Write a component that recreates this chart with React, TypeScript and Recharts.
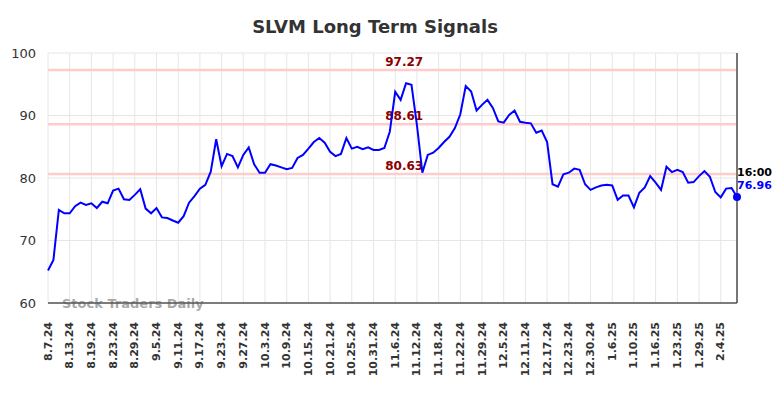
import { CartesianGrid, Line, LineChart, ReferenceLine, XAxis, YAxis } from "recharts";

const dates = [
  "8.7.24", "8.8.24", "8.9.24", "8.12.24", "8.13.24", "8.14.24", "8.15.24", "8.16.24", "8.19.24", "8.20.24",
  "8.21.24", "8.22.24", "8.23.24", "8.26.24", "8.27.24", "8.28.24", "8.29.24", "8.30.24",
  "9.3.24", "9.4.24", "9.5.24", "9.6.24", "9.9.24", "9.10.24", "9.11.24", "9.12.24", "9.13.24", "9.16.24",
  "9.17.24", "9.18.24", "9.19.24", "9.20.24", "9.23.24", "9.24.24", "9.25.24", "9.26.24", "9.27.24", "9.30.24",
  "10.1.24", "10.2.24", "10.3.24", "10.4.24", "10.7.24", "10.8.24", "10.9.24", "10.10.24", "10.11.24", "10.14.24",
  "10.15.24", "10.16.24", "10.17.24", "10.18.24", "10.21.24", "10.22.24", "10.23.24", "10.24.24", "10.25.24",
  "10.28.24", "10.29.24", "10.30.24", "10.31.24",
  "11.1.24", "11.4.24", "11.5.24", "11.6.24", "11.7.24", "11.8.24", "11.11.24", "11.12.24", "11.13.24", "11.14.24",
  "11.15.24", "11.18.24", "11.19.24", "11.20.24", "11.21.24", "11.22.24", "11.25.24", "11.26.24", "11.27.24", "11.29.24",
  "12.2.24", "12.3.24", "12.4.24", "12.5.24", "12.6.24", "12.9.24", "12.10.24", "12.11.24", "12.12.24", "12.13.24",
  "12.16.24", "12.17.24", "12.18.24", "12.19.24", "12.20.24", "12.23.24", "12.24.24", "12.26.24", "12.27.24",
  "12.30.24", "12.31.24",
  "1.2.25", "1.3.25", "1.6.25", "1.7.25", "1.8.25", "1.9.25", "1.10.25", "1.13.25", "1.14.25", "1.15.25",
  "1.16.25", "1.17.25", "1.21.25", "1.22.25", "1.23.25", "1.24.25", "1.27.25", "1.28.25", "1.29.25", "1.30.25",
  "1.31.25",
  "2.3.25", "2.4.25", "2.5.25", "2.6.25", "2.7.25",
];

const prices = [
  65.2, 66.9, 74.9, 74.35, 74.35, 75.5, 76.05, 75.7, 75.95, 75.2,
  76.2, 75.95, 78.0, 78.3, 76.6, 76.5, 77.3, 78.2, 75.1, 74.35,
  75.2, 73.7, 73.6, 73.2, 72.85, 73.9, 76.05, 77.1, 78.3, 78.9,
  81.0, 86.2, 81.9, 83.85, 83.5, 81.7, 83.7, 84.9, 82.2, 80.85,
  80.85, 82.2, 82.0, 81.7, 81.4, 81.6, 83.2, 83.7, 84.7, 85.75,
  86.4, 85.65, 84.2, 83.5, 83.85, 86.4, 84.7, 85.0, 84.6, 84.9,
  84.5, 84.5, 84.8, 87.4, 93.8, 92.5, 95.15, 94.9, 88.5, 80.85,
  83.7, 84.05, 84.8, 85.75, 86.6, 88.0, 90.2, 94.7, 93.85, 90.8,
  91.7, 92.5, 91.2, 89.05, 88.85, 90.1, 90.8, 89.0, 88.85, 88.75,
  87.25, 87.6, 85.75, 79.0, 78.6, 80.6, 80.85, 81.5, 81.3, 79.0,
  78.1, 78.5, 78.8, 78.9, 78.8, 76.5, 77.2, 77.2, 75.3, 77.65,
  78.5, 80.3, 79.25, 78.1, 81.8, 80.95, 81.3, 80.95, 79.25, 79.35,
  80.3, 81.1, 80.2, 77.75, 76.9, 78.3, 78.4, 76.96,
];

const tickDates = dates.filter((_, i) => i % 4 === 0);
const yTicks = [60, 70, 80, 90, 100];
const signals = [97.27, 88.61, 80.63];
const lastTime = "16:00";

const data = dates.map((d, i) => ({ date: d, price: prices[i] }));

const FONT = "DejaVu Sans, sans-serif";

function XTick({ x, y, payload }: any) {
  const ty = y + 11;
  return (
    <text
      x={x}
      y={ty}
      transform={`rotate(-90, ${x}, ${ty})`}
      textAnchor="end"
      dominantBaseline="central"
      fontFamily={FONT}
      fontSize={11}
      fontWeight="bold"
      fill="#333"
    >
      {payload.value}
    </text>
  );
}

function SignalLabel({ viewBox, value }: any) {
  const x = viewBox.x + viewBox.width * 0.517;
  return (
    <text x={x} y={viewBox.y - 4} textAnchor="middle" fontFamily={FONT} fontSize={12} fontWeight="bold" fill="#8b0000">
      {value}
    </text>
  );
}

function LastDot({ cx, cy, index }: any) {
  if (index !== prices.length - 1) return <g key={index} />;
  return (
    <g key={index}>
      <circle cx={cx} cy={cy} r={4} fill="#0000ff" />
      <text x={cx} y={cy - 21} fontFamily={FONT} fontSize={11} fontWeight="bold" fill="#000">
        {lastTime}
      </text>
      <text x={cx} y={cy - 8} fontFamily={FONT} fontSize={11} fontWeight="bold" fill="#0000ff">
        {prices[prices.length - 1].toFixed(2)}
      </text>
    </g>
  );
}

export default function App() {
  return (
    <div style={{ position: "absolute", left: 0, top: 0, width: 784, height: 398, background: "#fff" }}>
      <LineChart width={784} height={398} data={data} margin={{ top: 53, right: 47, bottom: 35, left: 8 }}>
        <text x={375} y={33} textAnchor="middle" fontFamily={FONT} fontSize={18} fontWeight="bold" fill="#333">
          SLVM Long Term Signals
        </text>
        <CartesianGrid stroke="#e6e6e6" strokeWidth={1} />
        <XAxis
          dataKey="date"
          ticks={tickDates}
          interval={0}
          tick={<XTick />}
          tickLine={false}
          axisLine={{ stroke: "#555", strokeWidth: 1.5 }}
          height={60}
        />
        <YAxis
          domain={[60, 100]}
          ticks={yTicks}
          width={40}
          axisLine={false}
          tickLine={false}
          tick={{ fontFamily: FONT, fontSize: 13, fill: "#333", dx: -4 }}
        />
        {signals.map((s) => (
          <ReferenceLine key={s} y={s} stroke="#ffcccc" strokeWidth={2.5} label={<SignalLabel value={s.toFixed(2)} />} />
        ))}
        <ReferenceLine x={dates[dates.length - 1]} stroke="#777" strokeWidth={2} />
        <text x={62} y={308} fontFamily={FONT} fontSize={13} fontWeight="bold" fill="#999" fillOpacity={0.85}>
          Stock Traders Daily
        </text>
        <Line
          type="linear"
          dataKey="price"
          stroke="#0000ff"
          strokeWidth={2}
          dot={<LastDot />}
          activeDot={false}
          isAnimationActive={false}
        />
      </LineChart>
    </div>
  );
}
